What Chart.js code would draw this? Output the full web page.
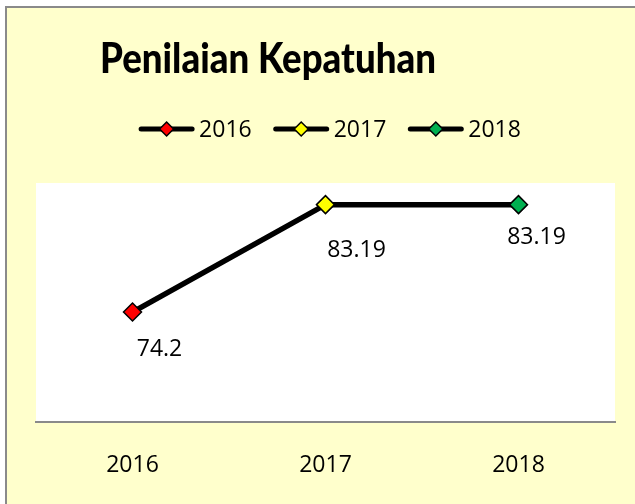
<!DOCTYPE html>
<html>
<head>
<meta charset="utf-8">
<script src="https://cdn.jsdelivr.net/npm/chart.js@4"></script>
<style>
  html, body { margin: 0; padding: 0; background: #fff; overflow: hidden; }
  #frame { position: absolute; left: 5px; top: 6px; width: 700px; height: 600px; background: #ffffcc; border: 2px solid #8a8a8a; }
  #chart { position: absolute; left: 0; top: 0; }
</style>
</head>
<body>
<div id="frame"></div>
<canvas id="chart" width="635" height="504"></canvas>
<script>
const years = ["2016", "2017", "2018"];
const scores = [74.2, 83.19, 83.19];
const markerColors = ["#ff0000", "#ffff00", "#00b050"];
const chartTitle = "Penilaian Kepatuhan";

const textFont = "'Open Sans', sans-serif";
// where each value label sits relative to its point (label centre x, baseline y)
const labelOffsets = [[27, 44], [31, 52], [18, 39]];

function diamond(ctx, x, y, r, fill) {
  ctx.beginPath();
  ctx.moveTo(x - r, y);
  ctx.lineTo(x, y - r);
  ctx.lineTo(x + r, y);
  ctx.lineTo(x, y + r);
  ctx.closePath();
  ctx.fillStyle = fill;
  ctx.fill();
  ctx.lineWidth = 1.5;
  ctx.strokeStyle = "#000";
  ctx.stroke();
}

const plotBackground = {
  id: "plotBackground",
  beforeDraw(chart) {
    const { ctx, chartArea: a } = chart;
    ctx.save();
    ctx.fillStyle = "#fff";
    ctx.fillRect(a.left, a.top, a.right - a.left, a.bottom - a.top);
    ctx.restore();
  }
};

const headerAndLegend = {
  id: "headerAndLegend",
  afterDraw(chart) {
    const ctx = chart.ctx;
    ctx.save();
    ctx.fillStyle = "#000";
    ctx.textBaseline = "alphabetic";

    // title: heavy weight, squeezed to a narrow width
    ctx.font = "900 42px Lato, 'Open Sans', sans-serif";
    ctx.textAlign = "center";
    const tw = ctx.measureText(chartTitle).width;
    const squeeze = 336 / tw;
    ctx.save();
    ctx.translate(268, 73);
    ctx.scale(squeeze, 1);
    ctx.fillText(chartTitle, 0, 0);
    ctx.restore();

    // legend entries: short line with a diamond, then the year
    ctx.font = "23px " + textFont;
    ctx.textAlign = "left";
    const lineLen = 55, gap = 5, itemGap = 22;
    const widths = years.map(t => ctx.measureText(t).width);
    const total = widths.reduce((s, w) => s + lineLen + gap + w, 0) + itemGap * (years.length - 1);
    let x = 330 - total / 2;
    const y = 129;
    years.forEach((label, i) => {
      ctx.strokeStyle = "#000";
      ctx.lineWidth = 5;
      ctx.lineCap = "round";
      ctx.beginPath();
      ctx.moveTo(x + 2, y);
      ctx.lineTo(x + lineLen - 2, y);
      ctx.stroke();
      diamond(ctx, x + lineLen / 2, y, 7, markerColors[i]);
      ctx.fillStyle = "#000";
      ctx.fillText(label, x + lineLen + gap, 137);
      x += lineLen + gap + widths[i] + itemGap;
    });
    ctx.restore();
  }
};

const valueLabels = {
  id: "valueLabels",
  afterDatasetsDraw(chart) {
    const ctx = chart.ctx;
    const meta = chart.getDatasetMeta(0);
    ctx.save();
    ctx.font = "23px " + textFont;
    ctx.fillStyle = "#000";
    ctx.textAlign = "center";
    ctx.textBaseline = "alphabetic";
    meta.data.forEach((pt, i) => {
      const [dx, dy] = labelOffsets[i];
      ctx.fillText(String(scores[i]), pt.x + dx, pt.y + dy);
    });
    ctx.restore();
  }
};

new Chart(document.getElementById("chart"), {
  type: "line",
  data: {
    labels: years,
    datasets: [{
      data: scores,
      borderColor: "#000",
      borderWidth: 5.5,
      tension: 0,
      pointStyle: "rectRot",
      pointRadius: 9,
      pointHoverRadius: 9,
      pointBorderWidth: 1.5,
      pointBorderColor: "#000",
      pointBackgroundColor: markerColors
    }]
  },
  options: {
    responsive: false,
    animation: false,
    events: [],
    layout: { padding: { top: 183, left: 36, right: 20, bottom: 0 } },
    plugins: {
      legend: { display: false },
      title: { display: false },
      tooltip: { enabled: false }
    },
    scales: {
      x: {
        offset: true,
        grid: { display: false, drawTicks: false },
        border: { display: true, color: "#8a8a8a", width: 2 },
        ticks: { color: "#000", padding: 30, font: { family: textFont, size: 23 } },
        afterFit(scale) { scale.height = 82; }
      },
      y: { display: false, min: 65, max: 85 }
    }
  },
  plugins: [plotBackground, headerAndLegend, valueLabels]
});
</script>
</body>
</html>
